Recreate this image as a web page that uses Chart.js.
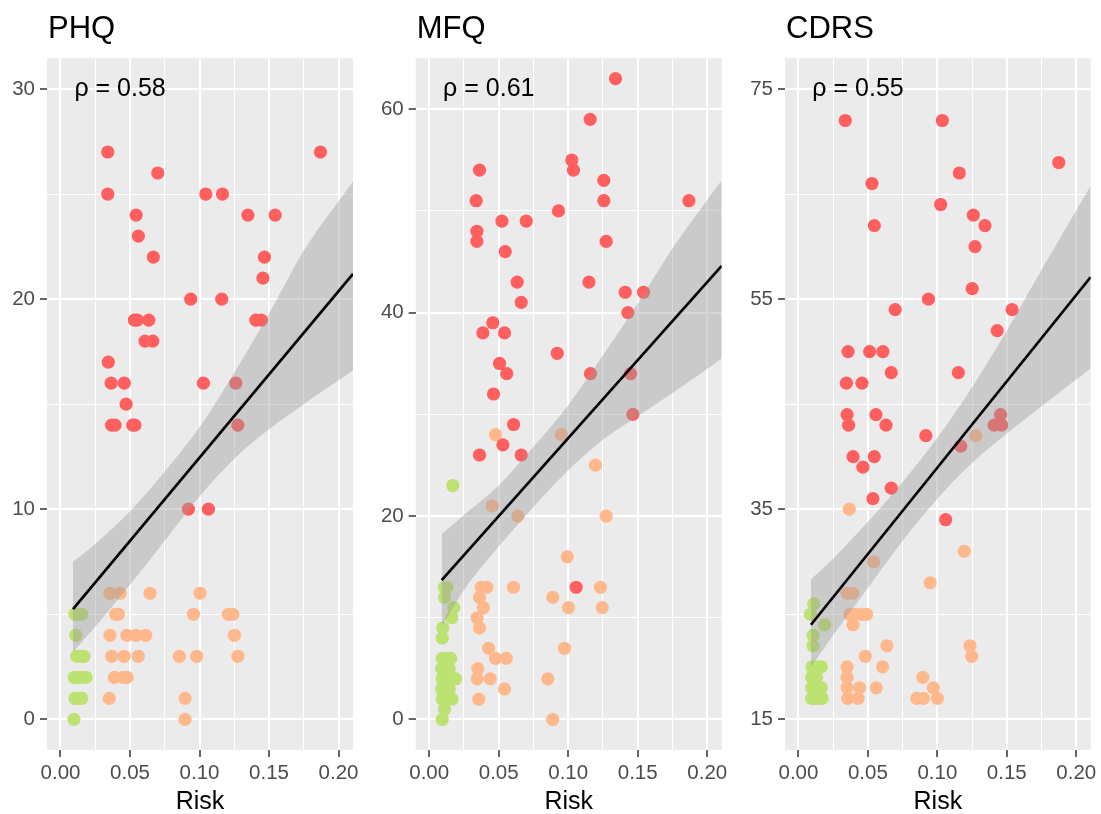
<!DOCTYPE html>
<html>
<head>
<meta charset="utf-8">
<script src="https://cdn.jsdelivr.net/npm/chart.js@4.4.1/dist/chart.umd.min.js"></script>
<style>
  html, body { margin: 0; padding: 0; background: #ffffff; }
  #wrap { position: relative; width: 1101px; height: 814px; overflow: hidden; }
  #wrap canvas { position: absolute; top: 0; }
</style>
</head>
<body>
<div id="wrap">
  <canvas id="phqChart" width="360" height="814" style="left:0px"></canvas>
  <canvas id="mfqChart" width="360" height="814" style="left:370px"></canvas>
  <canvas id="cdrsChart" width="366" height="814" style="left:735px"></canvas>
</div>
<script>
const FONT = "'Liberation Sans', Arial, sans-serif";
const COLORS = { high: "#FF5F5F", mid: "#FFB88C", low: "#BCE272" };
const BAND_FILL = "rgba(153, 153, 153, 0.4)";

// shared risk axis
const riskRange = [-0.0097, 0.2104];
const riskMajor = [0, 0.05, 0.10, 0.15, 0.20];
const riskMinor = [0.025, 0.075, 0.125, 0.175];
const riskLabels = ["0.00", "0.05", "0.10", "0.15", "0.20"];
const bandX = [0.009, 0.025, 0.05, 0.075, 0.10, 0.125, 0.15, 0.175, 0.2104];

// ---- PHQ ----
const phqRange = [-1.46, 31.46];
const phqMajor = [0, 10, 20, 30];
const phqMinor = [5, 15, 25];
const phqRho = ["ρ = 0.58", 0.01, 30];
const phqHigh = [
  [0.034, 27], [0.187, 27], [0.070, 26], [0.034, 25], [0.1045, 25], [0.1165, 25],
  [0.0544, 24], [0.1348, 24], [0.1544, 24], [0.056, 23], [0.0668, 22], [0.1467, 22],
  [0.1456, 21], [0.0937, 20], [0.116, 20], [0.0532, 19], [0.0552, 19], [0.0635, 19],
  [0.1405, 19], [0.1445, 19], [0.0608, 18], [0.0664, 18], [0.0344, 17], [0.0364, 16],
  [0.0459, 16], [0.1028, 16], [0.1261, 16], [0.0472, 15], [0.0368, 14], [0.0392, 14],
  [0.052, 14], [0.0535, 14], [0.1276, 14], [0.092, 10], [0.1064, 10]
];
const phqMid = [
  [0.0356, 6], [0.0428, 6], [0.0644, 6], [0.1004, 6],
  [0.0397, 5], [0.0416, 5], [0.0956, 5], [0.1208, 5], [0.124, 5],
  [0.0356, 4], [0.0477, 4], [0.0544, 4], [0.0613, 4], [0.1251, 4],
  [0.0369, 3], [0.0457, 3], [0.056, 3], [0.0855, 3], [0.098, 3], [0.1276, 3],
  [0.0387, 2], [0.0452, 2], [0.0479, 2],
  [0.0351, 1], [0.0896, 1], [0.0896, 0]
];
const phqLow = [
  [0.0104, 5], [0.0128, 5], [0.0153, 5], [0.011, 4],
  [0.0117, 3], [0.0145, 3], [0.0169, 3],
  [0.0099, 2], [0.0125, 2], [0.015, 2], [0.0184, 2],
  [0.0104, 1], [0.0125, 1], [0.0153, 1], [0.0097, 0]
];
const phqFit = [[0.009, 5.25], [0.2104, 21.2]];
const phqBandHi = [7.5, 8.35, 9.9, 11.8, 13.9, 16.5, 19.3, 22.3, 25.6];
const phqBandLo = [3.2, 4.4, 6.4, 8.5, 10.6, 12.4, 13.8, 15.0, 16.6];

// ---- MFQ ----
const mfqRange = [-3.0, 65.0];
const mfqMajor = [0, 20, 40, 60];
const mfqMinor = [10, 30, 50];
const mfqRho = ["ρ = 0.61", 0.01, 62];
const mfqHigh = [
  [0.134, 63], [0.1158, 59], [0.1026, 55], [0.1038, 54], [0.0362, 54], [0.1256, 53],
  [0.0338, 51], [0.1256, 51], [0.1868, 51], [0.093, 50], [0.0523, 49], [0.0698, 49],
  [0.0343, 48], [0.0343, 47], [0.1273, 47], [0.0547, 46], [0.0633, 43], [0.1149, 43],
  [0.141, 42], [0.1542, 42], [0.0662, 41], [0.1429, 40], [0.0458, 39], [0.0386, 38],
  [0.0542, 38], [0.0921, 36], [0.0506, 35], [0.0558, 34], [0.116, 34], [0.1448, 34],
  [0.0463, 32], [0.1465, 30], [0.0607, 29], [0.053, 27], [0.0362, 26], [0.0662, 26],
  [0.1057, 13]
];
const mfqMid = [
  [0.0477, 28], [0.095, 28], [0.1196, 25], [0.0453, 21], [0.0638, 20], [0.1273, 20],
  [0.0993, 16], [0.0374, 13], [0.0415, 13], [0.0607, 13], [0.1232, 13],
  [0.0362, 12], [0.0889, 12], [0.039, 11], [0.1002, 11], [0.1245, 11],
  [0.0345, 10], [0.0362, 9], [0.0427, 7], [0.0973, 7], [0.0477, 6], [0.0554, 6],
  [0.035, 5], [0.0345, 4], [0.0439, 4], [0.0853, 4], [0.0542, 3], [0.0357, 2],
  [0.0889, 0]
];
const mfqLow = [
  [0.017, 23], [0.011, 13], [0.0127, 13], [0.011, 12], [0.0177, 11], [0.0163, 10],
  [0.0098, 9], [0.0094, 8],
  [0.0094, 6], [0.012, 6], [0.0155, 6],
  [0.009, 5], [0.012, 5], [0.0145, 5],
  [0.0094, 4], [0.0125, 4], [0.0165, 4], [0.019, 4],
  [0.009, 3], [0.0125, 3], [0.0145, 3],
  [0.0094, 2], [0.0125, 2], [0.0165, 2],
  [0.011, 1], [0.0094, 0]
];
const mfqFit = [[0.009, 13.7], [0.2104, 44.6]];
const mfqBandHi = [18.2, 20.1, 23.0, 26.8, 30.9, 35.8, 40.9, 46.3, 53.0];
const mfqBandLo = [9.1, 12.7, 17.0, 20.9, 24.5, 27.5, 29.8, 32.1, 35.5];

// ---- CDRS ----
const cdrsRange = [12.08, 77.92];
const cdrsMajor = [15, 35, 55, 75];
const cdrsMinor = [25, 45, 65];
const cdrsRho = ["ρ = 0.55", 0.01, 75];
const cdrsHigh = [
  [0.0337, 72], [0.1036, 72], [0.1874, 68], [0.1158, 67], [0.0529, 66], [0.1024, 64],
  [0.1259, 63], [0.1343, 62], [0.0546, 62], [0.1271, 60], [0.1251, 56], [0.0936, 55],
  [0.0696, 54], [0.1538, 54], [0.1431, 52], [0.0357, 50], [0.0512, 50], [0.0608, 50],
  [0.0668, 48], [0.1151, 48], [0.0345, 47], [0.0457, 47], [0.035, 44], [0.0558, 44],
  [0.1455, 44], [0.0361, 43], [0.063, 43], [0.1409, 43], [0.1462, 43], [0.0917, 42],
  [0.1168, 41], [0.0393, 40], [0.0546, 40], [0.0464, 39], [0.0668, 37], [0.0536, 36],
  [0.106, 34]
];
const cdrsMid = [
  [0.1276, 42], [0.0366, 35], [0.1194, 31], [0.0541, 30], [0.0948, 28],
  [0.035, 27], [0.039, 27], [0.037, 25], [0.041, 25], [0.046, 25], [0.049, 25],
  [0.0393, 24], [0.0637, 22], [0.1235, 22], [0.0481, 21], [0.1247, 21],
  [0.035, 20], [0.0605, 20], [0.035, 19], [0.0895, 19],
  [0.035, 18], [0.044, 18], [0.056, 18], [0.0971, 18],
  [0.0354, 17], [0.0429, 17], [0.0852, 17], [0.0899, 17], [0.100, 17]
];
const cdrsLow = [
  [0.011, 26], [0.0086, 25], [0.0189, 24], [0.0105, 23], [0.0105, 22],
  [0.0097, 20], [0.013, 20], [0.0165, 20],
  [0.0095, 19], [0.013, 19],
  [0.0095, 18], [0.012, 18], [0.0165, 18],
  [0.0095, 17], [0.012, 17], [0.0145, 17], [0.017, 17]
];
const cdrsFit = [[0.009, 24.0], [0.2104, 57.1]];
const cdrsBandHi = [28.3, 30.3, 33.8, 37.6, 41.8, 46.6, 52.0, 57.8, 65.8];
const cdrsBandLo = [20.0, 23.0, 27.5, 32.0, 36.0, 39.4, 42.2, 44.8, 48.4];

// panel grey background + titles, rho annotation and axis title
const panelText = {
  id: "panelText",
  beforeDraw(chart) {
    const a = chart.chartArea;
    const ctx = chart.ctx;
    ctx.save();
    ctx.fillStyle = "#EBEBEB";
    ctx.fillRect(a.left, a.top, a.right - a.left, a.bottom - a.top);
    ctx.restore();
  },
  afterDraw(chart, args, o) {
    const { ctx, chartArea: a } = chart;
    const x = chart.scales.x, y = chart.scales.y;
    ctx.save();
    ctx.fillStyle = "#000000";
    ctx.textAlign = "left";
    ctx.textBaseline = "alphabetic";
    ctx.font = "31px " + FONT;
    ctx.fillText(o.title, a.left + 1, 37.7);
    ctx.font = "25px " + FONT;
    ctx.textBaseline = "middle";
    ctx.fillText(o.rho[0], x.getPixelForValue(o.rho[1]), y.getPixelForValue(o.rho[2]));
    ctx.textAlign = "center";
    ctx.textBaseline = "alphabetic";
    ctx.fillText("Risk", (a.left + a.right) / 2, 809);
    ctx.restore();
  }
};

const isIn = (list, v) => list.some(m => Math.abs(m - v) < 1e-9);
const toPts = arr => arr.map(p => ({ x: p[0], y: p[1] }));
const bandPts = ys => bandX.map((x, i) => ({ x: x, y: ys[i] }));

function gridFor(major) {
  return {
    color: "#FFFFFF",
    lineWidth: ctx => (ctx.tick && isIn(major, ctx.tick.value)) ? 2 : 1,
    tickColor: ctx => (ctx.tick && isIn(major, ctx.tick.value)) ? "#333333" : "rgba(0,0,0,0)",
    tickLength: 7,
    tickWidth: 1.5
  };
}

function makePanel(id, p) {
  const pointSet = (data, color) => ({
    type: "scatter",
    data: toPts(data),
    pointBackgroundColor: color,
    pointBorderColor: "rgba(0,0,0,0)",
    pointBorderWidth: 0,
    pointRadius: 6.6,
    pointHoverRadius: 6.6,
    order: 2
  });
  const tickFont = { family: FONT, size: 20.5 };

  return new Chart(document.getElementById(id), {
    type: "scatter",
    data: {
      datasets: [
        {
          type: "line", data: toPts(p.fit), borderColor: "#000000", borderWidth: 2.7,
          pointRadius: 0, fill: false, order: 0
        },
        {
          type: "line", data: bandPts(p.hi), borderColor: "rgba(0,0,0,0)", borderWidth: 1,
          pointRadius: 0, fill: "+1", backgroundColor: BAND_FILL,
          cubicInterpolationMode: "monotone", order: 1
        },
        {
          type: "line", data: bandPts(p.lo), borderColor: "rgba(0,0,0,0)", borderWidth: 1,
          pointRadius: 0, fill: false, cubicInterpolationMode: "monotone", order: 1
        },
        pointSet(p.high, COLORS.high),
        pointSet(p.mid, COLORS.mid),
        pointSet(p.low, COLORS.low)
      ]
    },
    options: {
      responsive: false,
      animation: false,
      events: [],
      layout: { padding: { top: 58.3, right: p.padRight, bottom: 0, left: 0 } },
      plugins: {
        legend: { display: false },
        tooltip: { enabled: false },
        panelText: { title: p.title, rho: p.rho }
      },
      scales: {
        x: {
          type: "linear",
          min: riskRange[0],
          max: riskRange[1],
          afterBuildTicks: s => {
            s.ticks = riskMajor.concat(riskMinor).sort((a, b) => a - b).map(v => ({ value: v }));
          },
          afterFit: s => { s.height = 64; s.paddingLeft = 0; s.paddingRight = 0; },
          border: { display: false },
          grid: gridFor(riskMajor),
          ticks: {
            autoSkip: false, maxRotation: 0, padding: 4, color: "#4D4D4D", font: tickFont,
            callback: v => {
              const i = riskMajor.findIndex(m => Math.abs(m - v) < 1e-9);
              return i >= 0 ? riskLabels[i] : "";
            }
          }
        },
        y: {
          type: "linear",
          min: p.range[0],
          max: p.range[1],
          afterBuildTicks: s => {
            s.ticks = p.major.concat(p.minor).sort((a, b) => a - b).map(v => ({ value: v }));
          },
          afterFit: s => { s.width = p.axisWidth; s.paddingTop = 0; s.paddingBottom = 0; },
          border: { display: false },
          grid: gridFor(p.major),
          ticks: {
            autoSkip: false, padding: 5, color: "#4D4D4D", font: tickFont,
            callback: v => isIn(p.major, v) ? String(v) : ""
          }
        }
      }
    },
    plugins: [panelText]
  });
}

makePanel("phqChart", {
  title: "PHQ", rho: phqRho, range: phqRange, major: phqMajor, minor: phqMinor,
  high: phqHigh, mid: phqMid, low: phqLow, fit: phqFit, hi: phqBandHi, lo: phqBandLo,
  axisWidth: 47, padRight: 7
});
makePanel("mfqChart", {
  title: "MFQ", rho: mfqRho, range: mfqRange, major: mfqMajor, minor: mfqMinor,
  high: mfqHigh, mid: mfqMid, low: mfqLow, fit: mfqFit, hi: mfqBandHi, lo: mfqBandLo,
  axisWidth: 45.7, padRight: 8.3
});
makePanel("cdrsChart", {
  title: "CDRS", rho: cdrsRho, range: cdrsRange, major: cdrsMajor, minor: cdrsMinor,
  high: cdrsHigh, mid: cdrsMid, low: cdrsLow, fit: cdrsFit, hi: cdrsBandHi, lo: cdrsBandLo,
  axisWidth: 50, padRight: 10.3
});
</script>
</body>
</html>
